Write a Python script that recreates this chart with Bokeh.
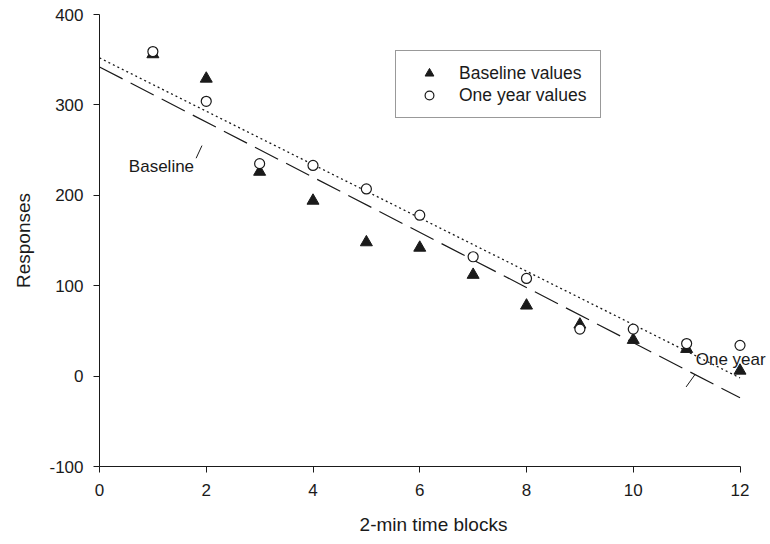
from bokeh.plotting import figure
from bokeh.models import Range1d, Label, FixedTicker
from bokeh.embed import file_html
from bokeh.resources import INLINE

# ---- data ----
blocks = [1, 2, 3, 4, 5, 6, 7, 8, 9, 10, 11, 12]
baseline_values = [356, 329, 226, 194, 148, 142, 112, 78, 57, 40, 30, 6]
one_year_values = [359, 304, 235, 233, 207, 178, 132, 108, 52, 52, 36, 34]
fit_x = [0, 12]
baseline_fit = [342, -24]
one_year_fit = [352, -2]
x_ticks = [0, 2, 4, 6, 8, 10, 12]
y_ticks = [-100, 0, 100, 200, 300, 400]

FONT = "Liberation Sans"
INK = "#1a1a1a"

p = figure(width=768, height=542,
           x_range=Range1d(0, 12.515), y_range=Range1d(-100, 400),
           output_backend="svg", toolbar_location=None,
           min_border_left=99, min_border_right=1,
           min_border_top=14, min_border_bottom=76)
p.outline_line_color = None
p.xgrid.visible = False
p.ygrid.visible = False
p.background_fill_color = "white"
p.border_fill_color = "white"

# fitted lines
p.line(fit_x, baseline_fit, line_color=INK, line_width=1.2, line_dash="26 9")
p.line(fit_x, one_year_fit, line_color=INK, line_width=1.3, line_dash="2 3")

# points
p.scatter(blocks, baseline_values, marker="triangle", size=12,
          fill_color=INK, line_color=INK, legend_label="Baseline values")
p.scatter(blocks, one_year_values, marker="circle", size=10,
          fill_color="white", line_color=INK, line_width=1.2,
          legend_label="One year values")

# leader lines for the line labels
p.segment(x0=[1.81, 10.99], y0=[241, -12], x1=[1.92, 11.16], y1=[255, 2],
          line_color=INK, line_width=1)

p.add_layout(Label(x=0.55, y=232, text="Baseline", text_font=FONT,
                   text_font_size="17px", text_color=INK, text_baseline="middle"))
p.add_layout(Label(x=11.17, y=18, text="One year", text_font=FONT,
                   text_font_size="17px", text_color=INK, text_baseline="middle"))

# axes
for ax in (p.xaxis[0], p.yaxis[0]):
    ax.axis_line_color = INK
    ax.axis_line_width = 1
    ax.major_tick_line_color = INK
    ax.major_tick_out = 6
    ax.major_tick_in = 0
    ax.minor_tick_line_color = None
    ax.major_label_text_font = FONT
    ax.major_label_text_font_size = "17px"
    ax.major_label_text_color = INK
    ax.axis_label_text_font = FONT
    ax.axis_label_text_font_size = "19px"
    ax.axis_label_text_font_style = "normal"
    ax.axis_label_text_color = INK

p.xaxis.bounds = (0, 12)
p.xaxis.ticker = FixedTicker(ticks=x_ticks)
p.yaxis.ticker = FixedTicker(ticks=y_ticks)
p.yaxis.major_label_overrides = {v: str(v) for v in y_ticks}
p.xaxis.axis_label = "2-min time blocks"
p.yaxis.axis_label = "Responses"
p.xaxis.major_label_standoff = 11
p.xaxis.axis_label_standoff = 15
p.yaxis.major_label_standoff = 10
p.yaxis.axis_label_standoff = 12

# legend
lg = p.legend[0]
lg.location = (296, 348)
lg.margin = 0
lg.padding = 11
lg.spacing = 0
lg.glyph_width = 44
lg.glyph_height = 22
lg.label_height = 22
lg.label_width = 130
lg.label_standoff = 8
lg.label_text_font = FONT
lg.label_text_font_size = "17.5px"
lg.label_text_color = INK
lg.border_line_color = "#333333"
lg.border_line_width = 1
lg.background_fill_color = "white"
lg.background_fill_alpha = 1

open("out.html", "w").write(file_html(p, INLINE))
